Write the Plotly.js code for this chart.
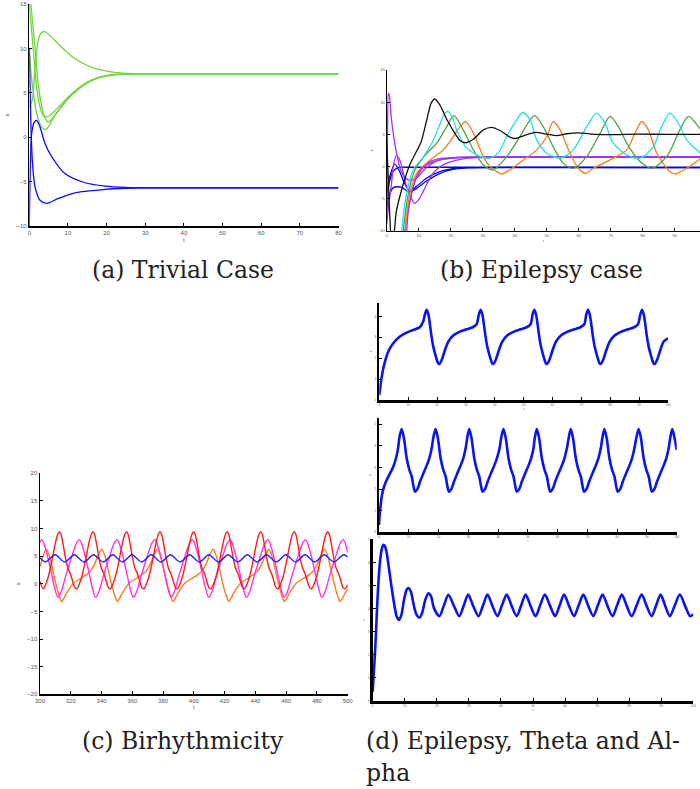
<!DOCTYPE html>
<html><head><meta charset="utf-8">
<script src="https://cdn.plot.ly/plotly-3.0.1.min.js"></script>
<style>html,body{margin:0;padding:0;background:#fff}#chart{width:700px;height:789px}</style>
</head><body><div id="chart"></div>
<script>
// ---------- Panel (a) Trivial Case ----------
const aGreenUpT = [0, 0.78, 1.5, 2.3, 3.0, 3.9, 5.35, 7.5, 9.66, 12, 14, 16, 18.3, 22.6, 26.9, 32, 80];
const aGreenUpX = [3.4, 4.2, 7.9, 10.9, 11.7, 11.9, 11.46, 10.5, 9.6, 8.8, 8.3, 7.9, 7.6, 7.27, 7.15, 7.12, 7.12];
const aGreenAT = [0, 1.04, 1.9, 2.77, 3.6, 4.5, 6, 8, 10, 12, 15, 18, 22, 26, 80];
const aGreenAX = [15, 9.8, 5.65, 3.4, 2.47, 2.28, 2.7, 3.6, 4.5, 5.3, 6.2, 6.75, 7.05, 7.12, 7.12];
const aGreenBT = [0.4, 1.5, 2.3, 3.2, 4.0, 4.9, 6, 8, 10, 12, 15, 18, 22, 26, 80];
const aGreenBX = [15, 10, 6, 3.5, 2.2, 1.7, 2.1, 3.25, 4.3, 5.15, 6.1, 6.7, 7.03, 7.12, 7.12];
const aGreenCT = [0, 0.5, 1.2, 2, 3, 4.06, 5, 6, 8, 10, 12, 15, 18, 22, 26, 80];
const aGreenCX = [10, 7, 4.5, 2.5, 1.3, 0.86, 1.2, 2.0, 3.3, 4.35, 5.2, 6.15, 6.72, 7.04, 7.12, 7.12];
const aBlue1T = [0, 0.27, 0.6, 1.3, 1.9, 2.77, 4.06, 5.8, 9.2, 14.4, 19.6, 25, 30, 80];
const aBlue1X = [-10, -3.3, 0.4, 1.7, 1.9, 1.16, -0.7, -2.2, -4.1, -5.13, -5.5, -5.65, -5.7, -5.7];
const aBlue2T = [0, 0.36, 0.78, 1.48, 2.77, 4.5, 7.5, 11.8, 19.6, 25, 30, 80];
const aBlue2X = [9.97, 2.3, -2.6, -5.6, -7.1, -7.45, -6.9, -6.26, -5.88, -5.75, -5.7, -5.7];

// ---------- Panel (b) Epilepsy case ----------
const bBlackT = [0, 0.5, 1.0, 1.5, 2.2, 3.0, 5.1, 7.2, 9.25, 10.8, 12.4, 13.9, 15.0, 16.6, 18.7, 20.8, 22.9, 24.5, 27.1, 30.2, 32.8, 35.4, 38.5, 40.1, 42.7, 46.5, 50.0, 53.1, 56.3, 60.0, 64.0, 70.0, 78.0, 88.0, 98.0];
const bBlackX = [4, -2, -8, -11, -10.5, -7.0, -2.85, 0.26, 2.3, 3.9, 7.0, 9.86, 10.5, 9.6, 7.4, 5.6, 4.04, 3.7, 4.26, 5.7, 6.1, 5.6, 4.57, 4.36, 4.77, 5.3, 5.04, 4.8, 5.1, 5.25, 5.05, 4.95, 5.05, 5.0, 5.0];
const bCyanT = [4.4, 4.7, 6.25, 8.3, 11.5, 14.6, 16.7, 18.2, 19.2, 20.5, 22.0, 25.0, 28.1, 32.3, 35.0, 37.5, 40.6, 42.5, 44.8, 46.9, 50.0, 54.2, 58.3, 62.5, 65.6, 68.2, 70.8, 75.0, 79.2, 83.3, 85.9, 88.5, 91.1, 93.75, 97.4, 98];
const bCyanX = [-12, -10, -4.1, -0.5, 1.55, 4.1, 6.7, 8.3, 8.55, 7.6, 5.5, 2.86, 1.82, 1.3, 2.2, 4.67, 7.26, 8.4, 7.26, 4.15, 2.08, 1.3, 2.6, 6.2, 8.3, 6.75, 3.64, 1.82, 1.3, 3.11, 6.2, 8.3, 6.75, 4.15, 2.33, 2.1];
const bGreenT = [4.9, 5.2, 6.8, 8.85, 12.5, 15.6, 18.75, 21.0, 23.9, 27.1, 30.2, 33.3, 37.5, 41.65, 44.8, 46.3, 48.9, 52.0, 55.2, 58.3, 62.5, 66.7, 69.8, 72.4, 75.0, 79.2, 82.8, 87.5, 91.6, 94.3, 97.4, 98];
const bGreenX = [-12, -10, -4.1, -0.5, 2.07, 3.6, 6.2, 7.9, 5.7, 2.6, 0.26, -0.5, 1.55, 4.67, 7.26, 7.9, 6.2, 3.1, 0.5, -0.26, 1.55, 5.2, 7.8, 6.2, 3.64, 0.78, -0.26, 1.55, 5.7, 7.8, 6.2, 5.8];
const bOrangeT = [5.4, 5.7, 7.3, 9.4, 13.5, 17.7, 20.8, 22.9, 24.7, 27.1, 30.2, 32.3, 34.4, 35.9, 38.5, 42.7, 46.9, 50.0, 52.0, 54.2, 56.8, 59.9, 62.0, 64.6, 69.8, 75.0, 77.6, 79.7, 81.75, 84.4, 88.5, 90.1, 93.75, 97.4, 98];
const bOrangeX = [-12, -10, -4.1, -1.0, 1.0, 2.6, 4.66, 6.2, 7.0, 5.2, 1.55, 0, -0.78, -1.14, -0.5, 1.04, 2.6, 4.67, 7.0, 5.7, 2.6, -0.26, -1.04, -0.26, 1.04, 2.6, 5.2, 7.0, 5.7, 2.08, -0.78, -1.14, -0.26, 1.04, 1.3];
const bPurple1T = [0, 0.25, 0.55, 0.9, 1.45, 3.0, 4.56, 6.66, 9.25, 11.9, 15.6, 20.8, 26, 35, 98];
const bPurple1X = [-8, 5, 11.4, 10.8, 7.5, 2.3, -0.78, -2.07, -1.8, -0.4, 0.9, 1.3, 1.42, 1.45, 1.45];
const bPurple2T = [0, 0.6, 1.45, 2.2, 3.0, 3.8, 4.56, 6.1, 7.7, 8.75, 10.3, 12.4, 14.5, 17.6, 23.8, 30, 98];
const bPurple2X = [-9, -6, -2.85, 0.5, 1.66, 1.3, 0.26, -2.85, -4.9, -5.7, -4.9, -2.85, -1.04, 0.26, 1.2, 1.4, 1.42];
const bPurple3T = [6.0, 6.25, 6.8, 8.3, 10.4, 13.5, 17.7, 21.9, 30, 98];
const bPurple3X = [-12, -10, -6.7, -3.1, -0.5, 0.78, 1.3, 1.45, 1.5, 1.5];
const bPurple4T = [5.4, 5.7, 7.3, 9.4, 12.5, 16.7, 21.9, 30, 98];
const bPurple4X = [-12, -10, -5.2, -1.55, 0.26, 1.04, 1.4, 1.48, 1.5];
const bBlue1T = [0, 0.5, 1.1, 2.5, 4.06, 5.6, 7.2, 9.25, 12.4, 16.6, 21.75, 26, 98];
const bBlue1X = [-4.4, -2.5, -1.3, 0.37, -0.78, -2.6, -3.8, -3.1, -1.8, -0.78, -0.26, -0.16, -0.15];
const bBlue2T = [0, 0.8, 1.97, 3.5, 6, 98];
const bBlue2X = [-5, -2.5, -0.78, -0.15, -0.1, -0.1];
const bBlue3T = [0, 0.5, 2, 4.5, 7, 9, 12, 16, 20, 25, 30, 98];
const bBlue3X = [-7, -5, -3.3, -3.2, -3.9, -3.5, -2.4, -1.2, -0.5, -0.2, -0.15, -0.15];

// ---------- Panel (c) Birhythmicity ----------
const cBlueT = [300, 303.5, 309.8, 316.0, 322.3, 328.5, 334.8, 341.0, 347.3, 353.5, 359.8, 366.0, 372.3, 378.5, 384.8, 391.0, 397.3, 403.5, 409.8, 416.0, 422.3, 428.5, 434.8, 441.0, 447.3, 453.5, 459.8, 466.0, 472.3, 478.5, 484.8, 491.0, 497.3, 500];
const cBlueX = [4.7, 3.95, 5.25, 3.95, 5.25, 3.95, 5.25, 3.95, 5.25, 3.95, 5.25, 3.95, 5.25, 3.95, 5.25, 3.95, 5.25, 3.95, 5.25, 3.95, 5.25, 3.95, 5.25, 3.95, 5.25, 3.95, 5.25, 3.95, 5.25, 3.95, 5.25, 3.95, 5.25, 4.85];
const cRedT = [300, 302.1, 305.1, 307.6, 310.1, 311.6, 312.6, 313.6, 315.1, 316.6, 318.1, 319.6, 321.1, 322.6, 323.9, 326.9, 329.4, 331.9, 333.4, 334.4, 335.4, 336.9, 338.4, 339.9, 341.4, 342.9, 344.4, 345.7, 348.7, 351.2, 353.7, 355.2, 356.2, 357.2, 358.7, 360.2, 361.7, 363.2, 364.7, 366.2, 367.5, 370.5, 373.0, 375.5, 377.0, 378.0, 379.0, 380.5, 382.0, 383.5, 385.0, 386.5, 388.0, 389.3, 392.3, 394.8, 397.3, 398.8, 399.8, 400.8, 402.3, 403.8, 405.3, 406.8, 408.3, 409.8, 411.1, 414.1, 416.6, 419.1, 420.6, 421.6, 422.6, 424.1, 425.6, 427.1, 428.6, 430.1, 431.6, 432.9, 435.9, 438.4, 440.9, 442.4, 443.4, 444.4, 445.9, 447.4, 448.9, 450.4, 451.9, 453.4, 454.7, 457.7, 460.2, 462.7, 464.2, 465.2, 466.2, 467.7, 469.2, 470.7, 472.2, 473.7, 475.2, 476.5, 479.5, 482.0, 484.5, 486.0, 487.0, 488.0, 489.5, 491.0, 492.5, 494.0, 495.5, 497.0, 498.3, 500];
const cRedX = [0.4, -0.9, 1.0, 4.0, 7.5, 9.0, 9.45, 9.0, 7.0, 4.6, 2.8, 1.9, 0.6, -0.7, -0.9, 1.0, 4.0, 7.5, 9.0, 9.45, 9.0, 7.0, 4.6, 2.8, 1.9, 0.6, -0.7, -0.9, 1.0, 4.0, 7.5, 9.0, 9.45, 9.0, 7.0, 4.6, 2.8, 1.9, 0.6, -0.7, -0.9, 1.0, 4.0, 7.5, 9.0, 9.45, 9.0, 7.0, 4.6, 2.8, 1.9, 0.6, -0.7, -0.9, 1.0, 4.0, 7.5, 9.0, 9.45, 9.0, 7.0, 4.6, 2.8, 1.9, 0.6, -0.7, -0.9, 1.0, 4.0, 7.5, 9.0, 9.45, 9.0, 7.0, 4.6, 2.8, 1.9, 0.6, -0.7, -0.9, 1.0, 4.0, 7.5, 9.0, 9.45, 9.0, 7.0, 4.6, 2.8, 1.9, 0.6, -0.7, -0.9, 1.0, 4.0, 7.5, 9.0, 9.45, 9.0, 7.0, 4.6, 2.8, 1.9, 0.6, -0.7, -0.9, 1.0, 4.0, 7.5, 9.0, 9.45, 9.0, 7.0, 4.6, 2.8, 1.9, 0.6, -0.7, -0.9, -0.2];
const cMagentaT = [300, 301.1, 302.1, 304.6, 307.1, 309.4, 311.6, 313.6, 316.6, 320.6, 323.8, 325.6, 326.6, 329.1, 331.6, 333.9, 336.1, 338.1, 341.1, 345.1, 348.3, 350.1, 351.1, 353.6, 356.1, 358.4, 360.6, 362.6, 365.6, 369.6, 372.8, 374.6, 375.6, 378.1, 380.6, 382.9, 385.1, 387.1, 390.1, 394.1, 397.3, 399.1, 400.1, 402.6, 405.1, 407.4, 409.6, 411.6, 414.6, 418.6, 421.8, 423.6, 424.6, 427.1, 429.6, 431.9, 434.1, 436.1, 439.1, 443.1, 446.3, 448.1, 449.1, 451.6, 454.1, 456.4, 458.6, 460.6, 463.6, 467.6, 470.8, 472.6, 473.6, 476.1, 478.6, 480.9, 483.1, 485.1, 488.1, 492.1, 495.3, 497.1, 498.1, 500];
const cMagentaX = [7.5, 8.0, 7.6, 5.3, 2.3, -0.6, -2.45, -1.6, 1.3, 4.9, 7.4, 8.0, 7.6, 5.3, 2.3, -0.6, -2.45, -1.6, 1.3, 4.9, 7.4, 8.0, 7.6, 5.3, 2.3, -0.6, -2.45, -1.6, 1.3, 4.9, 7.4, 8.0, 7.6, 5.3, 2.3, -0.6, -2.45, -1.6, 1.3, 4.9, 7.4, 8.0, 7.6, 5.3, 2.3, -0.6, -2.45, -1.6, 1.3, 4.9, 7.4, 8.0, 7.6, 5.3, 2.3, -0.6, -2.45, -1.6, 1.3, 4.9, 7.4, 8.0, 7.6, 5.3, 2.3, -0.6, -2.45, -1.6, 1.3, 4.9, 7.4, 8.0, 7.6, 5.3, 2.3, -0.6, -2.45, -1.6, 1.3, 4.9, 7.4, 8.0, 7.6, 5.6];
const cOrangeT = [300, 302.0, 304.0, 306.2, 308.3, 310.5, 312.7, 314.1, 317.3, 321.7, 328.2, 332.5, 335.7, 337.9, 340.1, 342.3, 344.4, 346.6, 348.8, 350.3, 353.5, 357.9, 364.4, 368.7, 371.9, 374.1, 376.3, 378.5, 380.6, 382.8, 385.0, 386.5, 389.7, 394.1, 400.6, 404.9, 408.1, 410.3, 412.5, 414.7, 416.8, 419.0, 421.2, 422.7, 425.9, 430.3, 436.8, 441.1, 444.3, 446.5, 448.7, 450.9, 453.0, 455.2, 457.4, 458.9, 462.1, 466.5, 473.0, 477.3, 480.5, 482.7, 484.9, 487.1, 489.2, 491.4, 493.6, 495.1, 498.3, 500];
const cOrangeX = [3.1, 5.0, 6.25, 4.95, 2.5, -0.2, -2.3, -3.2, -1.7, 0.1, 1.3, 2.2, 3.7, 5.25, 6.25, 4.95, 2.5, -0.2, -2.3, -3.2, -1.7, 0.1, 1.3, 2.2, 3.7, 5.25, 6.25, 4.95, 2.5, -0.2, -2.3, -3.2, -1.7, 0.1, 1.3, 2.2, 3.7, 5.25, 6.25, 4.95, 2.5, -0.2, -2.3, -3.2, -1.7, 0.1, 1.3, 2.2, 3.7, 5.25, 6.25, 4.95, 2.5, -0.2, -2.3, -3.2, -1.7, 0.1, 1.3, 2.2, 3.7, 5.25, 6.25, 4.95, 2.5, -0.2, -2.3, -3.2, -1.7, -0.9];

// ---------- Panel (d) Epilepsy, Theta and Alpha ----------
const d1T = [0, 0.23, 0.58, 1.15, 1.96, 3.1, 4.84, 7.15, 9.46, 11.8, 14.1, 15.2, 15.8, 16.4,
  17.0, 17.55, 18.1, 18.7, 19.6, 20.4, 20.8, 21.6, 22.75, 23.9, 25.6, 27.9, 30.2, 32.5, 33.7, 34.5, 35.1,
  35.7, 36.25, 36.8, 37.4, 38.3, 39.1, 39.5, 40.3, 41.45, 42.6, 44.3, 46.6, 48.9, 51.2, 52.4, 53.1, 53.7,
  54.3, 54.85, 55.4, 56.0, 56.9, 57.7, 58.1, 58.9, 60.05, 61.2, 62.9, 65.2, 67.5, 69.8, 71.0, 71.7, 72.3,
  72.9, 73.45, 74.0, 74.6, 75.5, 76.3, 76.7, 77.5, 78.65, 79.8, 81.5, 83.8, 86.1, 88.4, 89.6, 90.4, 91.0,
  91.6, 92.15, 92.7, 93.3, 94.2, 95.0, 95.4, 96.2, 97.35, 98.5, 100];
const d1X = [0.24, 0.48, 0.88, 1.36, 1.84, 2.32, 2.72, 3.04, 3.23, 3.36, 3.5, 3.76, 4.1, 4.32,
  4.1, 3.6, 3.04, 2.56, 2.08, 1.76, 1.73, 1.92, 2.4, 2.8, 3.09, 3.28, 3.39, 3.5, 3.63, 4.1, 4.32,
  4.1, 3.6, 3.04, 2.56, 2.08, 1.76, 1.73, 1.92, 2.4, 2.8, 3.09, 3.28, 3.39, 3.5, 3.63, 4.1, 4.32,
  4.1, 3.6, 3.04, 2.56, 2.08, 1.76, 1.73, 1.92, 2.4, 2.8, 3.09, 3.28, 3.39, 3.5, 3.63, 4.1, 4.32,
  4.1, 3.6, 3.04, 2.56, 2.08, 1.76, 1.73, 1.92, 2.4, 2.8, 3.09, 3.28, 3.39, 3.5, 3.63, 4.1, 4.32,
  4.1, 3.6, 3.04, 2.56, 2.08, 1.76, 1.73, 1.92, 2.4, 2.8, 2.96];
const d2T = [0, 0.22, 0.56, 1.0, 1.68, 2.58, 3.7, 4.8, 5.7, 6.4, 6.9, 7.6,
  8.4, 9.3, 10.2, 11.0, 11.5, 12.1, 12.9, 13.8, 14.9, 16.0, 16.9, 17.7, 18.2, 19.0,
  19.8, 20.7, 21.6, 22.4, 22.9, 23.5, 24.3, 25.2, 26.3, 27.4, 28.3, 29.1, 29.6, 30.3,
  31.1, 32.0, 32.9, 33.7, 34.2, 34.8, 35.6, 36.5, 37.6, 38.7, 39.6, 40.5, 41.0, 41.8,
  42.6, 43.5, 44.4, 45.2, 45.7, 46.3, 47.1, 48.0, 49.1, 50.2, 51.1, 51.9, 52.3, 53.0,
  53.8, 54.7, 55.6, 56.4, 56.9, 57.5, 58.3, 59.2, 60.3, 61.4, 62.3, 63.1, 63.7, 64.4,
  65.2, 66.1, 67.0, 67.8, 68.3, 68.9, 69.7, 70.6, 71.7, 72.8, 73.7, 74.5, 75.0, 75.7,
  76.5, 77.4, 78.3, 79.1, 79.6, 80.2, 81.0, 81.9, 83.0, 84.1, 85.0, 85.8, 86.4, 87.2,
  88.0, 88.9, 89.8, 90.6, 91.1, 91.7, 92.5, 93.4, 94.5, 95.6, 96.5, 97.3, 97.8, 98.5,
  99.3, 100];
const d2X = [0.34, 0.8, 1.27, 1.73, 2.11, 2.42, 2.73, 3.04, 3.43, 3.89, 4.43, 4.78,
  4.35, 3.43, 2.89, 2.58, 2.19, 1.88, 2.0, 2.35, 2.73, 3.09, 3.43, 3.89, 4.35, 4.78,
  4.35, 3.43, 2.89, 2.58, 2.19, 1.88, 2.0, 2.35, 2.73, 3.09, 3.43, 3.89, 4.35, 4.78,
  4.35, 3.43, 2.89, 2.58, 2.19, 1.88, 2.0, 2.35, 2.73, 3.09, 3.43, 3.89, 4.35, 4.78,
  4.35, 3.43, 2.89, 2.58, 2.19, 1.88, 2.0, 2.35, 2.73, 3.09, 3.43, 3.89, 4.35, 4.78,
  4.35, 3.43, 2.89, 2.58, 2.19, 1.88, 2.0, 2.35, 2.73, 3.09, 3.43, 3.89, 4.35, 4.78,
  4.35, 3.43, 2.89, 2.58, 2.19, 1.88, 2.0, 2.35, 2.73, 3.09, 3.43, 3.89, 4.35, 4.78,
  4.35, 3.43, 2.89, 2.58, 2.19, 1.88, 2.0, 2.35, 2.73, 3.09, 3.43, 3.89, 4.35, 4.78,
  4.35, 3.43, 2.89, 2.58, 2.19, 1.88, 2.0, 2.35, 2.73, 3.09, 3.43, 3.89, 4.35, 4.78,
  4.35, 3.81];
const d3T = [0, 0.31, 0.73, 1.04, 1.46, 1.87, 2.29, 2.8, 3.33, 3.85, 4.37, 5.2, 5.93, 6.65, 7.48, 8.2, 8.94, 9.77, 10.6, 11.2, 11.95, 12.9, 13.7, 14.55, 15.4, 16.4, 17.4, 18.2, 19.1, 20.8,
  22.2, 23.6, 25.3, 27.0, 28.4, 29.8, 31.3, 33.0, 34.4, 35.8, 37.3, 38.9, 40.3, 41.8, 43.3, 44.9, 46.3, 47.7, 49.2, 50.8, 52.2, 53.7, 55.3, 56.9, 58.3, 59.7, 61.2, 62.8, 64.2, 65.7, 67.2, 68.8, 70.2, 71.7, 73.2, 74.8, 76.2, 77.7, 79.2, 80.8, 82.3, 83.9, 85.4, 87.0, 88.4, 89.8, 91.2, 92.7, 94.2, 95.8, 97.4, 99.0, 100];
const d3X = [0.41, 1.13, 2.14, 3.0, 4.32, 5.33, 6.06, 6.57, 6.78, 6.71, 6.42, 5.62, 4.9, 4.25, 3.67, 3.52, 3.74, 4.39, 4.83, 4.9, 4.72, 4.1, 3.74, 3.62, 3.81, 4.39, 4.67, 4.54, 4.03, 3.68,
  4.14, 4.61, 4.14, 3.68, 4.14, 4.62, 4.14, 3.68, 4.14, 4.62, 4.14, 3.68, 4.14, 4.62, 4.14, 3.68, 4.14, 4.62, 4.14, 3.68, 4.14, 4.62, 4.14, 3.68, 4.14, 4.62, 4.14, 3.68, 4.14, 4.62, 4.14, 3.68, 4.14, 4.62, 4.14, 3.68, 4.14, 4.62, 4.14, 3.68, 4.14, 4.62, 4.14, 3.68, 4.14, 4.62, 4.14, 3.68, 4.14, 4.62, 4.14, 3.68, 3.77];

// ---------- build ----------
function line(t, x, color, width, xa, ya) {
  return {x: t, y: x, type: 'scatter', mode: 'lines', xaxis: xa, yaxis: ya,
    line: {color: color, width: width, shape: 'spline', smoothing: 0.8},
    hoverinfo: 'skip', showlegend: false};
}
const GA = '#70d63c', BL = '#0a0aff';
const traces = [
  line(aGreenUpT, aGreenUpX, GA, 1.3, 'x', 'y'),
  line(aGreenAT, aGreenAX, GA, 1.3, 'x', 'y'),
  line(aGreenBT, aGreenBX, GA, 1.3, 'x', 'y'),
  line(aGreenCT, aGreenCX, GA, 1.3, 'x', 'y'),
  line(aBlue1T, aBlue1X, BL, 1.3, 'x', 'y'),
  line(aBlue2T, aBlue2X, BL, 1.3, 'x', 'y'),

  line(bBlue1T, bBlue1X, '#0000ee', 1.3, 'x2', 'y2'),
  line(bBlue2T, bBlue2X, '#0000ee', 1.3, 'x2', 'y2'),
  line(bBlue3T, bBlue3X, '#0000ee', 1.3, 'x2', 'y2'),
  line(bPurple1T, bPurple1X, '#a030ff', 1.3, 'x2', 'y2'),
  line(bPurple2T, bPurple2X, '#a030ff', 1.3, 'x2', 'y2'),
  line(bPurple3T, bPurple3X, '#a030ff', 1.3, 'x2', 'y2'),
  line(bPurple4T, bPurple4X, '#a030ff', 1.3, 'x2', 'y2'),
  line(bOrangeT, bOrangeX, '#ff7a1a', 1.3, 'x2', 'y2'),
  line(bGreenT, bGreenX, '#52a044', 1.3, 'x2', 'y2'),
  line(bCyanT, bCyanX, '#22e0ee', 1.3, 'x2', 'y2'),
  line(bBlackT, bBlackX, '#111111', 1.3, 'x2', 'y2'),

  line(cOrangeT, cOrangeX, '#ff7a1a', 1.4, 'x3', 'y3'),
  line(cMagentaT, cMagentaX, '#ff30f0', 1.4, 'x3', 'y3'),
  line(cRedT, cRedX, '#ff1a1a', 1.4, 'x3', 'y3'),
  line(cBlueT, cBlueX, '#1a1aff', 1.4, 'x3', 'y3'),

  line(d1T, d1X, '#0a14f0', 2.6, 'x4', 'y4'),
  line(d2T, d2X, '#0a14f0', 2.6, 'x5', 'y5'),
  line(d3T, d3X, '#0a14f0', 2.6, 'x6', 'y6')
];

function ax(extra, fs, lw) {
  return Object.assign({showline: true, linecolor: '#000', linewidth: lw, showgrid: false, zeroline: false,
    ticks: 'inside', ticklen: 3, tickwidth: 1, tickcolor: '#000', mirror: false,
    tickfont: {family: 'Liberation Sans, Arial, sans-serif', size: fs, color: '#555'}}, extra);
}
function ttl(text, fs, standoff) {
  return {text: text, font: {family: 'Liberation Sans, Arial, sans-serif', size: fs, color: '#555'}, standoff: standoff};
}
const H = 789, W = 700;
const fy = (top, bot) => [1 - bot / H, 1 - top / H];
const fx = (l, r) => [l / W, r / W];

const layout = {
  width: W, height: H, margin: {l: 0, r: 0, t: 0, b: 0}, paper_bgcolor: '#fff', plot_bgcolor: 'rgba(0,0,0,0)',
  showlegend: false,
  xaxis: ax({domain: fx(29.3, 338.5), range: [0, 80], dtick: 10, anchor: 'y', title: ttl('t', 6, 3)}, 6, 1.5),
  yaxis: ax({domain: fy(4, 226), range: [-10, 15], dtick: 5, anchor: 'x', title: ttl('x', 6, 6)}, 6, 1.5),
  xaxis2: ax({domain: fx(386.7, 700), range: [0, 97.9], dtick: 10, anchor: 'y2', title: ttl('t', 4, 2)}, 4, 1.2),
  yaxis2: ax({domain: fy(70, 231), range: [-10, 15], dtick: 5, anchor: 'x2', title: ttl('x', 4, 4)}, 4, 1.2),
  xaxis3: ax({domain: fx(40, 347.7), range: [300, 500], dtick: 20, anchor: 'y3', title: ttl('t', 6, 2)}, 6, 1.5),
  yaxis3: ax({domain: fy(473.3, 694.3), range: [-20, 20], dtick: 5, anchor: 'x3', title: ttl('x', 6, 6)}, 6, 1.5),
  xaxis4: ax({domain: fx(379.3, 668), range: [0, 100], dtick: 10, anchor: 'y4', title: ttl('t', 3, 1)}, 3, 2.5),
  yaxis4: ax({domain: fy(303, 400), range: [0, 4.65], dtick: 1, anchor: 'x4', title: ttl('x', 3, 3)}, 3, 2.5),
  xaxis5: ax({domain: fx(379, 676.7), range: [0, 100], dtick: 10, anchor: 'y5', title: ttl('t', 3, 1)}, 3, 2.5),
  yaxis5: ax({domain: fy(417.7, 532.3), range: [0, 5.31], dtick: 1, anchor: 'x5', title: ttl('x', 3, 3)}, 3, 2.5),
  xaxis6: ax({domain: fx(372.7, 693.3), range: [0, 100], dtick: 10, anchor: 'y6', title: ttl('t', 3, 1)}, 3, 2.5),
  yaxis6: ax({domain: fy(539, 701), range: [0, 7.03], dtick: 1, anchor: 'x6', title: ttl('x', 3, 3)}, 3, 2.5),
  annotations: [
    {text: '(a) Trivial Case', x: 183 / W, y: 1 - 270 / H, xanchor: 'center', yanchor: 'middle'},
    {text: '(b) Epilepsy case', x: 541 / W, y: 1 - 270 / H, xanchor: 'center', yanchor: 'middle'},
    {text: '(c) Birhythmicity', x: 183 / W, y: 1 - 741 / H, xanchor: 'center', yanchor: 'middle'},
    {text: '(d) Epilepsy, Theta and Al-', x: 364 / W, y: 1 - 741 / H, xanchor: 'left', yanchor: 'middle'},
    {text: 'pha', x: 364 / W, y: 1 - 773 / H, xanchor: 'left', yanchor: 'middle'}
  ].map(a => Object.assign({xref: 'paper', yref: 'paper', showarrow: false,
    font: {family: 'DejaVu Serif, serif', size: 23.5, color: '#222'}}, a))
};
Plotly.newPlot('chart', traces, layout, {staticPlot: true, displayModeBar: false});
</script></body></html>
